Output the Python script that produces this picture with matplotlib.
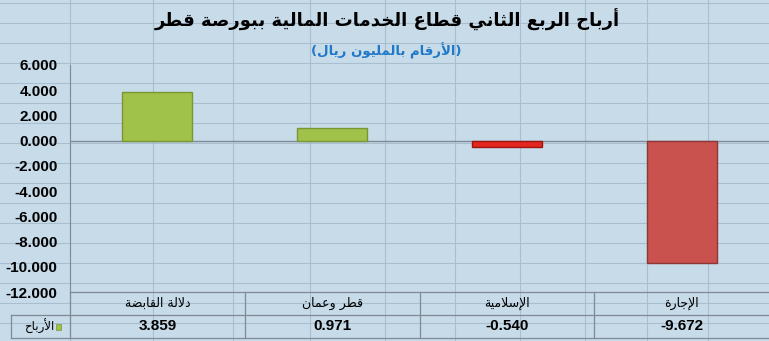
import matplotlib
matplotlib.use("Agg")
import matplotlib.pyplot as plt
from matplotlib.lines import Line2D
from matplotlib.patches import Rectangle

plt.rcParams["font.family"] = ["Liberation Sans", "DejaVu Sans"]

# Q2 profits, financial services sector, Qatar exchange (million riyal)
categories = ["دلالة القابضة", "قطر وعمان", "الإسلامية", "الإجارة"]
profits = [3.859, 0.971, -0.540, -9.672]
series_name = "الأرباح"
title = "أرباح الربع الثاني قطاع الخدمات المالية ببورصة قطر"
subtitle = "(الأرقام بالمليون ريال)"
yticks = [6, 4, 2, 0, -2, -4, -6, -8, -10, -12]

bar_colors = ["#a0c24a", "#a0c24a", "#e3261e", "#c9524f"]
edge_colors = ["#7a9632", "#7a9632", "#9e1410", "#8e3634"]

# --- tiny Arabic shaper (no arabic_reshaper in the sandbox) ---
FORMS = {"ا": (0xFE8D, 2), "أ": (0xFE83, 2), "إ": (0xFE87, 2), "ب": (0xFE8F, 4),
         "ة": (0xFE93, 2), "ت": (0xFE95, 4), "ث": (0xFE99, 4), "ج": (0xFE9D, 4),
         "ح": (0xFEA1, 4), "خ": (0xFEA5, 4), "د": (0xFEA9, 2), "ر": (0xFEAD, 2),
         "س": (0xFEB1, 4), "ش": (0xFEB5, 4), "ص": (0xFEB9, 4), "ض": (0xFEBD, 4),
         "ط": (0xFEC1, 4), "ع": (0xFEC9, 4), "ق": (0xFED5, 4), "ل": (0xFEDD, 4),
         "م": (0xFEE1, 4), "ن": (0xFEE5, 4), "و": (0xFEED, 2), "ي": (0xFEF1, 4)}
LAM_ALEF = {"ا": 0xFEFB, "أ": 0xFEF7, "إ": 0xFEF9}


def shape(text):
    toks, i = [], 0
    while i < len(text):
        c = text[i]
        if c == "ل" and i + 1 < len(text) and text[i + 1] in LAM_ALEF:
            toks.append(("LA", text[i + 1])); i += 2
        else:
            toks.append(c); i += 1

    def join_next(t):
        return not isinstance(t, tuple) and t in FORMS and FORMS[t][1] == 4

    def join_prev(t):
        return isinstance(t, tuple) or t in FORMS

    out = []
    for k, t in enumerate(toks):
        prv = toks[k - 1] if k > 0 else None
        nxt = toks[k + 1] if k + 1 < len(toks) else None
        r = prv is not None and join_next(prv) and join_prev(t)
        l = nxt is not None and join_next(t) and join_prev(nxt)
        if isinstance(t, tuple):
            out.append(chr(LAM_ALEF[t[1]] + (1 if r else 0)))
        elif t in FORMS:
            base, n = FORMS[t]
            if n == 2:
                out.append(chr(base + (1 if r else 0)))
            else:
                out.append(chr(base + (3 if r and l else 1 if r else 2 if l else 0)))
        else:
            out.append(t)
    vis = "".join(out)[::-1]
    return vis.translate(str.maketrans("()", ")("))


W, H = 769, 341
fig = plt.figure(figsize=(W / 100, H / 100), dpi=100)
fig.patch.set_facecolor("#c7dbe9")

# spreadsheet cell lines behind the chart
for xp in [70, 153, 233, 310, 385, 455, 520, 585, 647, 708]:
    fig.add_artist(Line2D([xp / W, xp / W], [0, 1], color="#a9bfd0", lw=0.8, zorder=0))
for yp in range(3, H, 20):
    fig.add_artist(Line2D([0, 1], [1 - yp / H, 1 - yp / H], color="#a9bfd0", lw=0.8, zorder=0))

ax = fig.add_axes([70 / W, 1 - 292 / H, 1 - 70 / W, (292 - 65) / H])
ax.set_facecolor("none")
x = list(range(len(categories)))
ax.bar(x, profits, width=0.4, color=bar_colors, edgecolor=edge_colors, linewidth=1.0, zorder=3)
ax.axhline(0, color="#7f8a94", lw=1.0, zorder=2)
ax.set_xlim(-0.5, len(categories) - 0.5)
ax.set_ylim(-12, 6)
ax.set_yticks(yticks)
ax.set_yticklabels([f"{v:.3f}" for v in yticks], fontsize=11, fontweight="bold")
ax.tick_params(axis="y", length=0, pad=9)
ax.set_xticks([])
for s in ["top", "right", "bottom"]:
    ax.spines[s].set_visible(False)
ax.spines["left"].set_color("#7f8a94")

# data table below the plot
rh = 23 / (292 - 65)
tcol = "#7f8a94"
trans = ax.get_xaxis_transform()
for y0 in [0, -rh, -2 * rh]:
    ax.add_artist(Line2D([-0.5, 3.5], [y0, y0], transform=trans, color=tcol, lw=0.9, clip_on=False))
for xb in [-0.5, 0.5, 1.5, 2.5]:
    ax.add_artist(Line2D([xb, xb], [0, -2 * rh], transform=trans, color=tcol, lw=0.9, clip_on=False))
for xi, (c, v) in enumerate(zip(categories, profits)):
    ax.text(xi, -rh / 2, shape(c), transform=trans, ha="center", va="center",
            fontsize=9, family="DejaVu Sans")
    ax.text(xi, -1.5 * rh, f"{v:.3f}", transform=trans, ha="center", va="center",
            fontsize=11, fontweight="bold")

# legend cell
lx0, lx1 = 11 / W, 70 / W
ly0, ly1 = 1 - 338 / H, 1 - 315 / H
for xa, ya, xb2, yb in [(lx0, ly0, lx1, ly0), (lx0, ly1, lx1, ly1), (lx0, ly0, lx0, ly1)]:
    fig.add_artist(Line2D([xa, xb2], [ya, yb], color=tcol, lw=0.9))
fig.text(54 / W, (ly0 + ly1) / 2, shape(series_name), ha="right", va="center",
         fontsize=8.5, family="DejaVu Sans")
fig.add_artist(Rectangle((56 / W, (ly0 + ly1) / 2 - 3 / H), 5 / W, 6 / H,
                         facecolor="#a0c24a", edgecolor="#7a9632", lw=0.5))

fig.text(387 / W, 1 - 20 / H, shape(title), ha="center", va="center",
         fontsize=13, fontweight="bold", color="black", family="DejaVu Sans")
fig.text(386 / W, 1 - 51 / H, shape(subtitle), ha="center", va="center",
         fontsize=9.5, fontweight="bold", color="#1f78c8", family="DejaVu Sans")

fig.savefig("out.png", dpi=100, facecolor=fig.get_facecolor())
